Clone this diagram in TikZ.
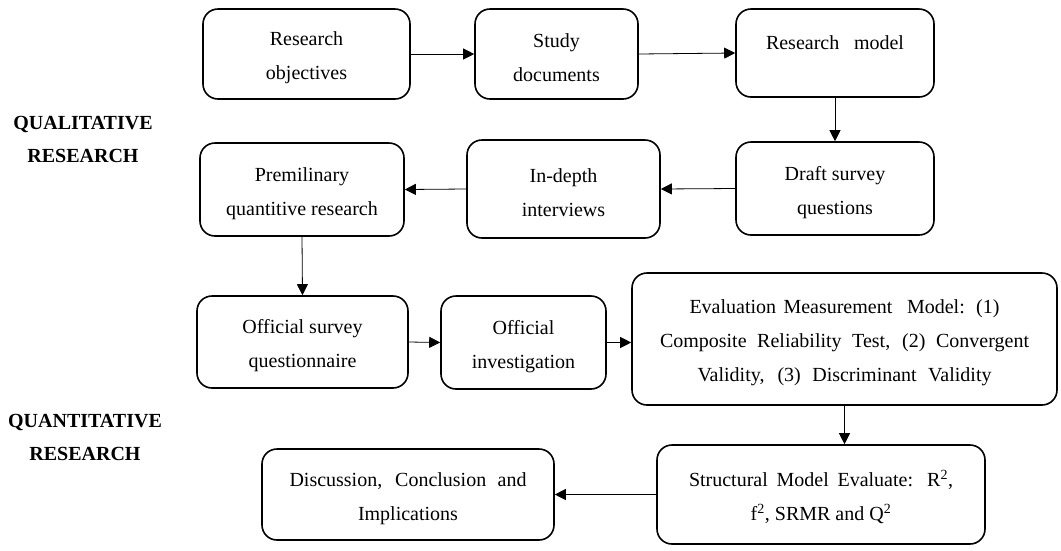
\documentclass[tikz,border=0pt]{standalone}
\usepackage{fontspec}
\setmainfont{Liberation Serif}
\usetikzlibrary{positioning, arrows.meta}
\newcommand{\spreadline}[2]{\makebox[#1][s]{#2}}
\newcommand{\tstrut}{\rule{0pt}{22pt}}
\tikzset{every box/.style={draw,line width=1.6pt,rounded corners=15pt,align=center,
                           font=\fontsize{20}{34}\selectfont,inner sep=0pt},
         box/.style={every box},
         phase/.style={align=center,font=\fontsize{20}{33}\selectfont\bfseries},
         flow/.style={-{Triangle[length=11pt,width=11pt]},line width=0.8pt},
        }

\begin{document}
\begin{tikzpicture}[x=1pt,y=-1pt]
        \useasboundingbox (0,0) rectangle (1061,550);
        \node[phase](qual)at(83,139){QUALITATIVE\\RESEARCH};
        \node[phase](quan)at(85,437){QUANTITATIVE\\RESEARCH};

        \node[box,minimum width=207pt,minimum height=90pt](obj)at(306.5,54){\tstrut Research\\objectives};
        \node[box,minimum width=163pt,minimum height=90pt](doc)at(556.5,54){\tstrut Study\\documents};
        \node[box,minimum width=198pt,minimum height=88pt](mod)at(835,53){\tstrut\spreadline{138pt}{Research model}\\[-4pt]\mbox{}};
        \node[box,minimum width=198pt,minimum height=93pt](dra)at(835,188.5){\tstrut Draft survey\\questions};
        \node[box,minimum width=193pt,minimum height=98pt](int)at(563.5,189){\tstrut In-depth\\interviews};
        \node[box,minimum width=204pt,minimum height=93pt](pre)at(302,189.5){\tstrut Premilinary\\quantitive research};
        \node[box,minimum width=211pt,minimum height=92pt](off)at(302.5,342){\tstrut Official survey\\questionnaire};
        \node[box,minimum width=165pt,minimum height=93pt](inv)at(523.5,342.5){\tstrut Official\\investigation};
        \node[box,minimum width=425pt,minimum height=132pt](eva)at(844.5,339){\tstrut\spreadline{310pt}{Evaluation Measurement\ \ Model: (1)}\\
              \spreadline{369pt}{Composite Reliability Test, (2) Convergent}\\\spreadline{294pt}{Validity, (3) Discriminant Validity}};
        \node[box,minimum width=328pt,minimum height=99pt](str)at(821,494.5){\tstrut\spreadline{264pt}{Structural Model Evaluate: R\textsuperscript{2},}\\
              f\textsuperscript{2}, SRMR and Q\textsuperscript{2}};
        \node[box,minimum width=292pt,minimum height=91pt](dis)at(408,494.5){\tstrut\spreadline{237pt}{Discussion, Conclusion and}\\Implications};

        \draw[flow](obj.east)--(doc.west);
        \draw[flow](doc.east)--(mod.west);
        \draw[flow](mod.south)--(dra.north);
        \draw[flow](dra.west)--(int.east);
        \draw[flow](int.west)--(pre.east);
        \draw[flow](pre.south)--(off.north);
        \draw[flow](off.east)--(inv.west);
        \draw[flow](inv.east)--(eva.west |- inv.east);
        \draw[flow](eva.south)--(str.north -| eva.south);
        \draw[flow](str.west)--(dis.east);
    \end{tikzpicture}
\end{document}
